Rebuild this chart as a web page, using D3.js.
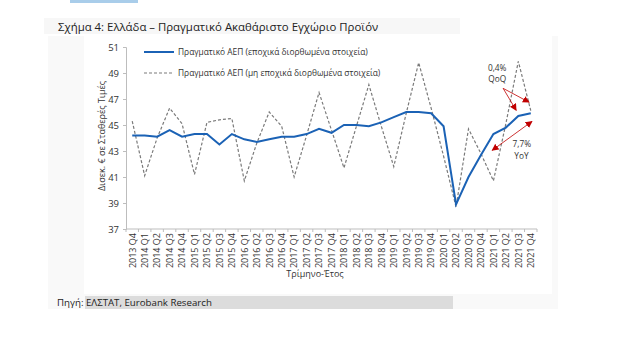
<!DOCTYPE html>
<html>
<head>
<meta charset="utf-8">
<script src="https://cdn.jsdelivr.net/npm/d3@7"></script>
<style>
  body { margin: 0; background: #fff; }
  svg { display: block; font-family: "Open Sans", "Noto Sans", sans-serif; }
</style>
</head>
<body>
<svg id="chart" width="622" height="343"></svg>
<script>
// Real GDP of Greece, bn € at constant prices
const quarters = [
  "2013 Q4",
  "2014 Q1", "2014 Q2", "2014 Q3", "2014 Q4",
  "2015 Q1", "2015 Q2", "2015 Q3", "2015 Q4",
  "2016 Q1", "2016 Q2", "2016 Q3", "2016 Q4",
  "2017 Q1", "2017 Q2", "2017 Q3", "2017 Q4",
  "2018 Q1", "2018 Q2", "2018 Q3", "2018 Q4",
  "2019 Q1", "2019 Q2", "2019 Q3", "2019 Q4",
  "2020 Q1", "2020 Q2", "2020 Q3", "2020 Q4",
  "2021 Q1", "2021 Q2", "2021 Q3", "2021 Q4",
];

// seasonally adjusted
const gdpSA = [
  44.2,
  44.2, 44.1, 44.6, 44.1,
  44.3, 44.3, 43.5, 44.3,
  43.9, 43.7, 43.9, 44.1,
  44.1, 44.3, 44.7, 44.4,
  45.0, 45.0, 44.9, 45.2,
  45.6, 46.0, 46.0, 45.9,
  44.9, 38.9, 41.0, 42.7,
  44.3, 44.8, 45.7, 45.9,
];

// not seasonally adjusted
const gdpNSA = [
  45.3,
  41.1, 44.0, 46.3, 45.1,
  41.2, 45.2, 45.4, 45.5,
  40.7, 43.6, 46.0, 44.9,
  41.0, 44.2, 47.5, 44.6,
  41.7, 44.9, 48.1, 44.9,
  41.8, 45.9, 49.8, 46.3,
  42.6, 38.7, 44.7, 42.8,
  40.7, 45.1, 49.9, 46.1,
];

const yTicks = [37, 39, 41, 43, 45, 47, 49, 51];

const legendLabels = [
  "Πραγματικό ΑΕΠ (εποχικά διορθωμένα στοιχεία)",
  "Πραγματικό ΑΕΠ (μη εποχικά διορθωμένα στοιχεία)",
];

const svg = d3.select("#chart");

const plot = { left: 126, right: 537, top: 47, bottom: 229 };

const x = d3.scalePoint()
  .domain(quarters)
  .range([plot.left, plot.right])
  .padding(0.5);
const step = x.step();
// fractional quarter index -> pixel, used for the annotations
const xi = (i) => x(quarters[0]) + i * step;

const y = d3.scaleLinear()
  .domain([37, 51])
  .range([plot.bottom, plot.top]);

const blue = "#1b62b5";
const grey = "#7a7a7a";
const red = "#c00000";
const textColor = "#333";

// page decoration
svg.append("rect").attr("x", 70).attr("y", 0).attr("width", 68).attr("height", 3)
  .attr("fill", "#a9cdea");
svg.append("rect").attr("x", 44).attr("y", 18).attr("width", 416).attr("height", 16)
  .attr("fill", "#f7f7f7");
svg.append("rect").attr("x", 48).attr("y", 36).attr("width", 510).attr("height", 273)
  .attr("fill", "#f9f9f9");
svg.append("rect").attr("x", 84).attr("y", 36).attr("width", 468).attr("height", 258)
  .attr("fill", "#fff");

svg.append("text")
  .attr("x", 58).attr("y", 31)
  .attr("font-size", 11.4)
  .attr("fill", "#222")
  .text("Σχήμα 4: Ελλάδα – Πραγματικό Ακαθάριστο Εγχώριο Προϊόν");

// y axis
const yAxis = svg.append("g")
  .attr("transform", `translate(${plot.left},0)`)
  .call(d3.axisLeft(y).tickValues(yTicks).tickSize(3).tickPadding(4));
yAxis.select(".domain").attr("stroke", "#bdbdbd");
yAxis.selectAll(".tick line").attr("stroke", "#bdbdbd");
yAxis.selectAll(".tick text")
  .attr("font-size", 9.5)
  .attr("font-family", "Open Sans, sans-serif")
  .attr("fill", textColor);

// x axis, ticks on the boundaries between quarters
const xAxis = svg.append("g")
  .attr("transform", `translate(0,${plot.bottom})`);
xAxis.append("line")
  .attr("x1", plot.left).attr("x2", plot.right)
  .attr("stroke", "#bdbdbd");
xAxis.selectAll(".tk")
  .data(d3.range(quarters.length + 1))
  .join("line")
  .attr("class", "tk")
  .attr("x1", (i) => xi(i - 0.5)).attr("x2", (i) => xi(i - 0.5))
  .attr("y1", 0).attr("y2", 3)
  .attr("stroke", "#bdbdbd");
xAxis.selectAll(".lbl")
  .data(quarters)
  .join("text")
  .attr("class", "lbl")
  .attr("transform", (d) => `translate(${x(d) + 3.3},4) rotate(-90)`)
  .attr("text-anchor", "end")
  .attr("font-size", 9)
  .attr("fill", textColor)
  .text((d) => d);

svg.append("text")
  .attr("x", 315).attr("y", 277)
  .attr("text-anchor", "middle")
  .attr("font-size", 9)
  .attr("fill", textColor)
  .text("Τρίμηνο-Έτος");

svg.append("text")
  .attr("transform", `translate(105,${(plot.top + plot.bottom) / 2 - 2}) rotate(-90)`)
  .attr("text-anchor", "middle")
  .attr("font-size", 9)
  .attr("fill", textColor)
  .text("Δισεκ. € σε Σταθερές Τιμές");

// series
const line = d3.line()
  .x((d, i) => x(quarters[i]))
  .y((d) => y(d));

svg.append("path")
  .datum(gdpNSA)
  .attr("d", line)
  .attr("fill", "none")
  .attr("stroke", grey)
  .attr("stroke-width", 1.2)
  .attr("stroke-dasharray", "3,2");

svg.append("path")
  .datum(gdpSA)
  .attr("d", line)
  .attr("fill", "none")
  .attr("stroke", blue)
  .attr("stroke-width", 2);

// legend
const legend = svg.append("g").attr("font-size", 8.4).attr("fill", textColor);
legendLabels.forEach((label, i) => {
  const ly = 52 + i * 21;
  legend.append("line")
    .attr("x1", 144).attr("x2", 174)
    .attr("y1", ly).attr("y2", ly)
    .attr("stroke", i === 0 ? blue : grey)
    .attr("stroke-width", i === 0 ? 2 : 1.2)
    .attr("stroke-dasharray", i === 0 ? null : "3,2");
  legend.append("text")
    .attr("x", 178).attr("y", ly)
    .attr("dy", "0.35em")
    .text(label);
});

// growth annotations
const defs = svg.append("defs");
defs.append("marker")
  .attr("id", "head")
  .attr("viewBox", "0 0 10 10")
  .attr("refX", 9).attr("refY", 5)
  .attr("markerWidth", 7).attr("markerHeight", 7)
  .attr("markerUnits", "userSpaceOnUse")
  .attr("orient", "auto-start-reverse")
  .append("path")
  .attr("d", "M0,0 L10,5 L0,10 Z")
  .attr("fill", red);

const ann = svg.append("g").attr("stroke", red).attr("stroke-width", 0.8);
const qoqFrom = [29.78, 47.82];
[[30.83, 46.13], [31.87, 46.75]].forEach((p) => {
  ann.append("line")
    .attr("x1", xi(qoqFrom[0])).attr("y1", y(qoqFrom[1]))
    .attr("x2", xi(p[0])).attr("y2", y(p[1]))
    .attr("marker-end", "url(#head)");
});
ann.append("line")
  .attr("x1", xi(32.1)).attr("y1", y(45.28))
  .attr("x2", xi(28.9)).attr("y2", y(43.05))
  .attr("marker-start", "url(#head)")
  .attr("marker-end", "url(#head)");

// two-line labels
const annText = svg.append("g")
  .attr("font-size", 8.3)
  .attr("fill", textColor)
  .attr("text-anchor", "middle");
[["0,4%", 29.3, 49.35], ["QoQ", 29.3, 48.5], ["7,7%", 31.28, 43.5], ["YoY", 31.25, 42.62]]
  .forEach(([s, i, v]) => {
    annText.append("text")
      .attr("x", xi(i)).attr("y", y(v))
      .attr("dy", "0.35em")
      .text(s);
  });

// source
svg.append("rect").attr("x", 85).attr("y", 296).attr("width", 368).attr("height", 13)
  .attr("fill", "#dcdcdc");
svg.append("text")
  .attr("x", 57).attr("y", 306)
  .attr("font-size", 9.7)
  .attr("fill", "#222")
  .text("Πηγή: ΕΛΣΤΑΤ, Eurobank Research");
</script>
</body>
</html>
